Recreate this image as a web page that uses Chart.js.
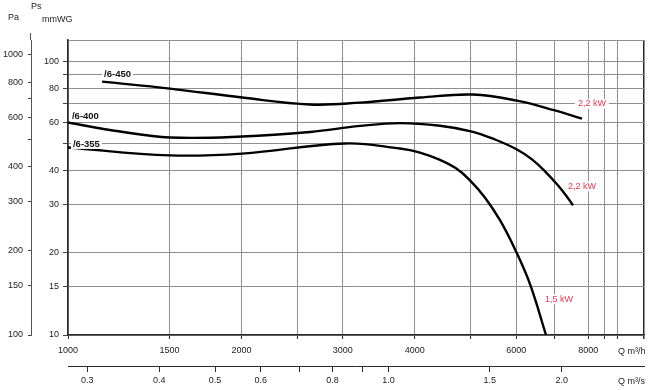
<!DOCTYPE html>
<html>
<head>
<meta charset="utf-8">
<script src="https://cdn.jsdelivr.net/npm/chart.js@4.4.1/dist/chart.umd.min.js"></script>
<style>
  html, body { margin: 0; padding: 0; background: #fff; }
  #wrap { width: 650px; height: 390px; }
</style>
</head>
<body>
<div id="wrap"><canvas id="fan" width="650" height="390"></canvas></div>
<script>
// fan curves: Q in m3/h, Ps in mmWG
const q450 = [1146, 1503, 2005, 2632, 3213, 4084, 5047, 6019, 7007, 7805];
const p450 = [84.5, 79.7, 73.9, 69.7, 70.8, 73.9, 75.8, 72.0, 66.3, 61.9];
const q400 = [1000, 1231, 1503, 2005, 2632, 3213, 3771, 4424, 5028, 5512, 6019, 6390, 6731, 7063, 7322, 7529];
const p400 = [59.9, 55.5, 52.8, 53.2, 55.3, 58.2, 59.6, 58.3, 55.5, 51.9, 47.7, 43.9, 39.7, 35.6, 32.4, 29.8];
const q355 = [1000, 1503, 2005, 3027, 3771, 4084, 4424, 4717, 4988, 5297, 5623, 5970, 6340, 6759];
const p355 = [48.5, 45.4, 46.1, 50.2, 48.1, 46.5, 43.7, 40.7, 36.8, 31.8, 26.3, 20.6, 15.35, 10.0];

// axis ticks
const qTicks = [1000, 1500, 2000, 2500, 3000, 4000, 5000, 6000, 7000, 8000, 8550, 9000, 10000];
const qLabels = [1000, 1500, 2000, 3000, 4000, 6000, 8000];
const qsTicks = [0.3, 0.4, 0.5, 0.6, 0.7, 0.8, 0.9, 1.0, 1.5, 2.0];
const qsLabels = [0.3, 0.4, 0.5, 0.6, 0.8, 1.0, 1.5, 2.0];
const mmTicks = [10, 15, 20, 30, 40, 50, 60, 70, 80, 90, 100, 120];
const mmLabels = [10, 15, 20, 30, 40, 60, 80, 100];
const paTicks = [100, 150, 200, 300, 400, 500, 600, 700, 800, 1000];
const paLabels = [100, 150, 200, 300, 400, 600, 800, 1000];

// curve names and motor ratings, anchored at [Q, Ps]
const curveNames = ['/6-450', '/6-400', '/6-355'];
const nameAt = [[1155, 90], [1016, 63], [1020, 50]];
const powerTexts = ['2,2 kW', '2,2 kW', '1,5 kW'];
const powerAt = [[8120, 70], [7805, 35], [7119, 13.5]];

const FONT = "'Liberation Sans', Arial, sans-serif";
const GRID = '#8f8f8f';
const DARK = '#2a2a2a';
const RED = '#f0334f';

function pts(q, p) { return q.map((v, i) => ({ x: v, y: p[i] })); }
function setTicks(vals) { return axis => { axis.ticks = vals.map(v => ({ value: v })); }; }
function fixW(w) { return axis => { axis.width = w; }; }
function fixH(h) { return axis => { axis.height = h; }; }

const extras = {
  id: 'extras',
  afterDraw(chart) {
    const ctx = chart.ctx, x = chart.scales.x, y = chart.scales.y, pa = chart.scales.pa;
    ctx.save();
    // Pa axis line runs a bit above the plot
    ctx.strokeStyle = '#555';
    ctx.lineWidth = 1;
    ctx.beginPath();
    ctx.moveTo(pa.right - 0.5, chart.chartArea.top - 7);
    ctx.lineTo(pa.right - 0.5, chart.chartArea.top);
    ctx.stroke();

    ctx.fillStyle = '#222';
    ctx.font = '9px ' + FONT;
    ctx.textBaseline = 'middle';
    ctx.textAlign = 'left';
    ctx.fillText('Ps', 31, 7);
    ctx.fillText('Pa', 8, 18);
    ctx.fillText('mmWG', 42, 20);
    ctx.fillText('Q m³/h', 618, 352);
    ctx.fillText('Q m³/s', 618, 382);

    ctx.font = 'bold 9.5px ' + FONT;
    curveNames.forEach((t, i) => {
      const px = x.getPixelForValue(nameAt[i][0]);
      const py = y.getPixelForValue(nameAt[i][1]);
      const w = ctx.measureText(t).width;
      ctx.fillStyle = '#fff';
      ctx.fillRect(px - 2, py - 5, w + 4, 10);
      ctx.fillStyle = '#111';
      ctx.fillText(t, px, py);
    });

    ctx.font = '9px ' + FONT;
    ctx.textAlign = 'center';
    powerTexts.forEach((t, i) => {
      const px = x.getPixelForValue(powerAt[i][0]);
      const py = y.getPixelForValue(powerAt[i][1]);
      const w = ctx.measureText(t).width;
      ctx.fillStyle = '#fff';
      ctx.fillRect(px - w / 2 - 3, py - 5, w + 6, 10);
      ctx.fillStyle = RED;
      ctx.fillText(t, px, py);
    });
    ctx.restore();
  }
};

const curve = (data) => ({
  data, borderColor: '#000', borderWidth: 2.4, pointRadius: 0,
  tension: 0.4, fill: false, xAxisID: 'x', yAxisID: 'y'
});

new Chart(document.getElementById('fan'), {
  type: 'line',
  data: { datasets: [curve(pts(q450, p450)), curve(pts(q400, p400)), curve(pts(q355, p355))] },
  options: {
    responsive: false,
    animation: false,
    layout: { padding: { left: 0, right: 6, top: 40, bottom: 0 } },
    plugins: { legend: { display: false }, tooltip: { enabled: false } },
    scales: {
      x: {
        type: 'logarithmic', position: 'bottom', weight: 0, min: 1000, max: 10000,
        afterBuildTicks: setTicks(qTicks), afterFit: fixH(31),
        border: { color: DARK, width: 1.5 },
        grid: {
          color: c => c.tick && c.tick.value === 10000 ? DARK : GRID,
          lineWidth: c => c.tick && c.tick.value === 10000 ? 1.5 : 1,
          tickColor: DARK, tickLength: 4
        },
        ticks: {
          autoSkip: false, maxRotation: 0, padding: 6, color: '#222', font: { family: FONT, size: 9 },
          callback: v => qLabels.includes(v) ? String(v) : ''
        }
      },
      qs: {
        type: 'logarithmic', position: 'bottom', weight: 1, min: 1000 / 3600, max: 10000 / 3600,
        afterBuildTicks: setTicks(qsTicks), afterFit: fixH(24),
        border: { color: DARK, width: 1 },
        grid: { drawOnChartArea: false, tickColor: DARK, tickLength: 6 },
        ticks: {
          autoSkip: false, maxRotation: 0, padding: 3, color: '#222', font: { family: FONT, size: 9 },
          callback: v => qsLabels.includes(v) ? v.toFixed(1) : ''
        }
      },
      y: {
        type: 'logarithmic', position: 'left', weight: 0, min: 10, max: 120,
        afterBuildTicks: setTicks(mmTicks), afterFit: fixW(37),
        border: { color: DARK, width: 1.5 },
        grid: {
          color: GRID, lineWidth: 1, tickLength: 5,
          tickColor: c => c.tick && c.tick.value === 120 ? 'rgba(0,0,0,0)' : '#444'
        },
        ticks: {
          autoSkip: false, padding: 4, color: '#222', font: { family: FONT, size: 9 },
          callback: v => mmLabels.includes(v) ? String(v) : ''
        }
      },
      pa: {
        type: 'logarithmic', position: 'left', weight: 1, min: 100, max: 1130,
        afterBuildTicks: setTicks(paTicks), afterFit: fixW(31),
        border: { color: '#555', width: 1 },
        grid: { drawOnChartArea: false, tickColor: '#444', tickLength: 3 },
        ticks: {
          autoSkip: false, padding: 5, color: '#222', font: { family: FONT, size: 9 },
          callback: v => paLabels.includes(v) ? String(v) : ''
        }
      }
    }
  },
  plugins: [extras]
});
</script>
</body>
</html>
